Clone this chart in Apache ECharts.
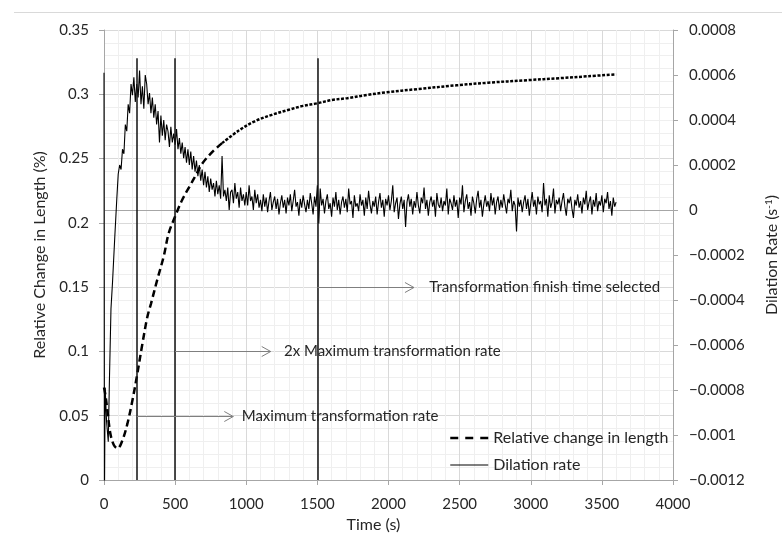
<!DOCTYPE html>
<html>
<head>
<meta charset="utf-8">
<script src="https://cdn.jsdelivr.net/npm/echarts@6/dist/echarts.min.js"></script>
<style>
  html, body { margin: 0; padding: 0; background: #fff; }
  #chart { width: 782px; height: 547px; }
</style>
</head>
<body>
<div id="chart"></div>
<script>
// Relative change in length (%) against time (s)
const lengthTime = [0, 10, 25, 45, 70, 96, 130, 165, 200, 230, 270, 305, 330, 375, 420, 455, 500, 550, 600, 650, 690, 760, 830,
  950, 1060, 1180, 1300, 1400, 1500, 1600, 1710, 1850, 1980, 2200, 2480, 2700, 2980, 3200, 3400, 3600];
const lengthValue = [0.072, 0.066, 0.053, 0.036, 0.027, 0.0246, 0.031, 0.044, 0.062, 0.080, 0.106, 0.127, 0.137, 0.156, 0.174, 0.192, 0.205, 0.218, 0.228, 0.238, 0.246, 0.255, 0.262,
  0.272, 0.279, 0.284, 0.288, 0.291, 0.293, 0.2955, 0.297, 0.2995, 0.3015, 0.304, 0.307, 0.309, 0.311, 0.3125, 0.314, 0.3155];

// Dilation rate, in units of 1e-6 s^-1
const dilationEarlyTime = [0, 3, 8, 18, 30, 38, 49, 60, 75, 90];
const dilationEarlyRate = [610, -1300, -790, -940, -1030, -760, -440, -320, -130, 50];
// sampled every 10 s from t = 100 s to t = 3600 s
const dilationSampleStart = 100;
const dilationSampleStep = 10;
const dilationRate = [
  160, 200, 180, 270, 250, 380, 350, 470, 430, 560,
  510, 590, 480, 560, 500, 620, 470, 550, 450, 600,
  560, 470, 520, 430, 500, 410, 470, 380, 440, 300,
  420, 330, 400, 310, 380, 350, 280, 370, 300, 340,
  290, 360, 270, 320, 250, 300, 230, 280, 210, 270,
  200, 260, 180, 240, 170, 220, 150, 200, 130, 180,
  110, 170, 100, 150, 80, 140, 90, 120, 60, 130,
  70, 110, 50, 240, 60, 90, 40, 100, 0, 80,
  90, 30, 120, 50, 80, 10, 100, 40, 70, 20,
  80, 20, 110, 40, 60, 0, 90, 30, 70, 10,
  45, -5, 70, 15, 55, -10, 40, 80, 0, 35,
  60, 5, 50, -20, 30, 65, 10, 45, -15, 55,
  20, 70, -5, 40, 90, 15, 35, -25, 50, 10,
  65, 25, -10, 45, 5, 75, 30, -20, 60, 15,
  110, -60, 95, 20, 50, -15, 40, 70, 5, 30,
  -30, 55, 15, 80, 0, 45, -20, 35, 60, 10,
  50, -10, 95, 25, 40, -35, 65, 15, 30, -5,
  70, 20, 45, -25, 55, 5, 85, 25, -15, 40,
  15, 60, -20, 35, 75, 10, 45, -30, 50, 20,
  65, 0, 40, 110, -10, 30, 55, -40, 25, 60,
  5, 45, -75, 35, 70, 15, 50, -20, 40, 10,
  80, 20, -15, 55, 30, 100, 5, 45, -25, 35,
  60, 15, 45, -30, 75, 25, 10, 55, -5, 40,
  20, 95, -20, 50, 30, 0, 65, 15, 45, -35,
  55, 25, 110, -10, 40, 70, 5, 35, -25, 60,
  30, -15, 50, 85, 10, 45, -30, 25, 65, 15,
  40, -5, 75, 20, 55, -20, 35, 60, 0, 45,
  10, 70, 25, -15, 50, 30, 90, -5, 40, 20,
  -95, 55, 15, 45, -10, 35, 65, 5, 50, -25,
  30, 80, 15, 45, -20, 60, 25, 40, -10, 120,
  20, 50, -30, 65, 10, 35, 95, -15, 45, 25,
  55, -5, 40, 75, 15, -25, 50, 30, 60, 5,
  -35, 45, 20, 70, 10, 40, -15, 55, 25, 85,
  0, 35, 60, -20, 45, 15, 75, -5, 40, 20,
  65, -10, 50, 30, 80, 5, 40, -25, 55, 15,
  35
];

// Marked events: time (s), top of the marker line, annotation level and text
const eventTimes = [230, 500, 1500];
const eventTop = 0.328;
const eventLevels = [0.05, 0.1, 0.15];
const arrowTipTimes = [909, 1172, 2179];
const eventTextTimes = [968, 1265, 2287];
const eventLabels = ['Maximum transformation rate', '2x Maximum transformation rate', 'Transformation finish time selected'];

const xTicks = { min: 0, max: 4000, interval: 500 };
const leftTicks = { min: 0, max: 0.35, interval: 0.05 };
const rightTicks = { min: -0.0012, max: 0.0008, interval: 0.0002 };

// ---------- build series data ----------
const lengthEarly = [], lengthLate = [];
lengthTime.forEach((t, i) => {
  if (t <= 830) lengthEarly.push([t, lengthValue[i]]);
  if (t >= 830) lengthLate.push([t, lengthValue[i]]);
});
const dilationData = dilationEarlyTime.map((t, i) => [t, dilationEarlyRate[i] * 1e-6]);
dilationRate.forEach((v, i) => dilationData.push([dilationSampleStart + i * dilationSampleStep, v * 1e-6]));

const FONT = 'Lato';
const TXT = '#262626';
const AXIS = '#a6a6a6';

function rightLabel(v) {
  const s = String(Number(v.toPrecision(6)));
  return s.charAt(0) === '-' ? '\u2212' + s.slice(1) : s;
}

const chart = echarts.init(document.getElementById('chart'), null, { renderer: 'canvas' });

chart.setOption({
  animation: false,
  backgroundColor: '#fff',
  textStyle: { fontFamily: FONT },
  grid: { left: 104, right: 109, top: 30, bottom: 67, containLabel: false, outerBoundsMode: 'none' },
  legend: {
    orient: 'vertical',
    left: 444, top: 425,
    itemWidth: 38, itemHeight: 14, itemGap: 11,
    textStyle: { fontFamily: FONT, fontSize: 16, color: TXT },
    itemStyle: { color: 'transparent', borderColor: 'transparent', borderWidth: 0, opacity: 0 },
    data: [
      { name: 'Relative change in length', lineStyle: { type: [8, 7], width: 2.5, color: '#000' } },
      { name: 'Dilation rate', lineStyle: { width: 1, color: '#000' } }
    ]
  },
  xAxis: {
    type: 'value', ...xTicks,
    name: 'Time (s)', nameLocation: 'middle', nameGap: 35,
    nameTextStyle: { fontFamily: FONT, fontSize: 16, color: TXT, padding: [0, 30, 0, 0] },
    axisLine: { show: true, onZero: false, lineStyle: { color: AXIS } },
    axisTick: { show: true, length: 5, lineStyle: { color: AXIS } },
    axisLabel: { fontFamily: FONT, fontSize: 15, color: TXT, margin: 17, formatter: v => String(v) },
    splitLine: { show: true, lineStyle: { color: '#d9d9d9' } },
    minorTick: { show: false, splitNumber: 5 },
    minorSplitLine: { show: true, lineStyle: { color: '#efefef' } }
  },
  yAxis: [
    {
      type: 'value', ...leftTicks, position: 'left',
      name: 'Relative Change in Length (%)', nameLocation: 'middle', nameGap: 56, nameRotate: 90,
      nameTextStyle: { fontFamily: FONT, fontSize: 16, color: TXT },
      axisLine: { show: true, lineStyle: { color: AXIS } },
      axisTick: { show: true, length: 5, lineStyle: { color: AXIS } },
      axisLabel: { fontFamily: FONT, fontSize: 15, color: TXT, margin: 15 },
      splitLine: { show: true, lineStyle: { color: '#d9d9d9' } },
      minorTick: { show: false, splitNumber: 5 },
      minorSplitLine: { show: true, lineStyle: { color: '#efefef' } }
    },
    {
      type: 'value', ...rightTicks, position: 'right',
      name: 'Dilation Rate (s{sup|-1})', nameLocation: 'middle', nameGap: 91, nameRotate: 90,
      nameTextStyle: {
        fontFamily: FONT, fontSize: 16, color: TXT,
        rich: { sup: { fontFamily: FONT, fontSize: 10, color: TXT, verticalAlign: 'top', padding: [0, 0, 6, 0] } }
      },
      axisLine: { show: true, lineStyle: { color: AXIS } },
      axisTick: { show: true, length: 5, lineStyle: { color: AXIS } },
      axisLabel: { fontFamily: FONT, fontSize: 15, color: TXT, margin: 16, formatter: rightLabel },
      splitLine: { show: false }
    }
  ],
  series: [
    {
      name: 'Dilation rate', type: 'line', yAxisIndex: 1, data: dilationData,
      showSymbol: false, symbol: 'none', clip: true,
      lineStyle: { color: '#000', width: 1.1 },
      itemStyle: { color: '#000' },
      z: 3,
      markLine: {
        silent: true, symbol: 'none', label: { show: false },
        lineStyle: { color: '#a6a6a6', width: 1, type: 'solid' },
        data: [{ yAxis: 0 }],
        z: 1
      }
    },
    {
      name: 'Relative change in length', type: 'line', yAxisIndex: 0, data: lengthEarly,
      showSymbol: false, symbol: 'none', smooth: 0.35,
      lineStyle: { color: '#000', width: 2.5, type: [7, 4] },
      itemStyle: { color: '#000' },
      z: 4,
      markLine: {
        silent: true, symbol: 'none', label: { show: false },
        lineStyle: { color: '#111', width: 1.5, type: 'solid' },
        data: eventTimes.map(t => [{ coord: [t, 0] }, { coord: [t, eventTop] }])
      }
    },
    {
      name: 'Relative change in length', type: 'line', yAxisIndex: 0, data: lengthLate,
      showSymbol: false, symbol: 'none', smooth: 0.35,
      lineStyle: { color: '#000', width: 2.5, type: [3, 1.6] },
      itemStyle: { color: '#000' },
      z: 4
    }
  ]
});

// Annotation arrows and their captions, placed in data coordinates
const toPx = (t, v) => chart.convertToPixel({ xAxisIndex: 0, yAxisIndex: 0 }, [t, v]);
const graphics = [
  { type: 'line', silent: true, shape: { x1: 14, y1: 12.5, x2: 782, y2: 12.5 }, style: { stroke: '#d9d9d9', lineWidth: 1 } }
];
eventTimes.forEach((t, i) => {
  const p0 = toPx(t, eventLevels[i]);
  const p1 = toPx(arrowTipTimes[i], eventLevels[i]);
  const pt = toPx(eventTextTimes[i], eventLevels[i]);
  const y = Math.round(p0[1]) + 0.5;
  graphics.push({ type: 'line', silent: true, z: 10,
    shape: { x1: p0[0], y1: y, x2: p1[0], y2: y }, style: { stroke: '#7f7f7f', lineWidth: 1 } });
  graphics.push({ type: 'polyline', silent: true, z: 10,
    shape: { points: [[p1[0] - 9, y - 5], [p1[0], y], [p1[0] - 9, y + 5]] }, style: { stroke: '#7f7f7f', lineWidth: 1, fill: null } });
  graphics.push({ type: 'text', silent: true, z: 10,
    style: { text: eventLabels[i], x: pt[0], y: y, verticalAlign: 'middle', align: 'left', fontFamily: FONT, fontSize: 15, fill: TXT } });
});
chart.setOption({ graphic: graphics });
</script>
</body>
</html>
